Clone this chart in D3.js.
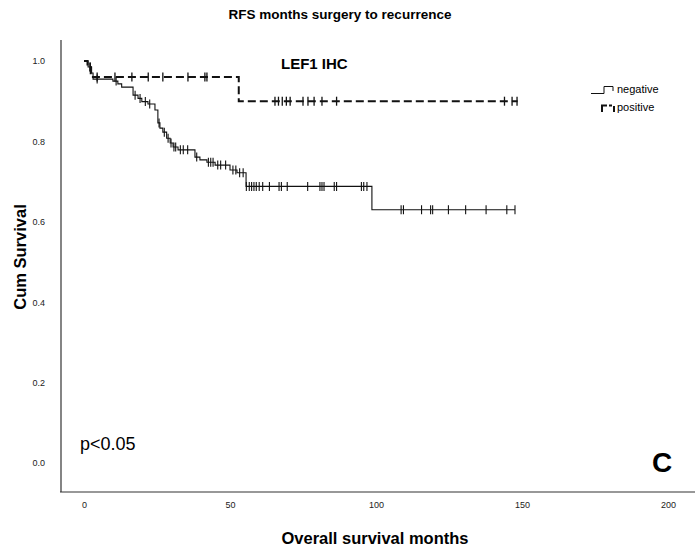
<!DOCTYPE html>
<html><head><meta charset="utf-8">
<script src="https://cdn.jsdelivr.net/npm/d3@7"></script>
<style>body{margin:0;background:#fff}svg{display:block;font-family:Arial,"Liberation Sans",sans-serif}</style>
</head><body><svg id="c" width="695" height="550"></svg>
<script>
const xTicks = [0, 50, 100, 150, 200];
const yTicks = [0.0, 0.2, 0.4, 0.6, 0.8, 1.0];
// Negative group: step times (months) and survival after each step
const negTimes = [0, 1.4, 2.6, 3.1, 9.9, 11.6, 12.9, 16.8, 18.5, 19.8, 21.9, 24.3, 25.3, 26.0, 27.0, 28.3, 29.5, 30.5, 32.2, 38.0, 39.7, 42.1, 44.9, 50.0, 52.4, 55.5, 98.6];
const negSurv  = [1.0, 0.985, 0.97, 0.955, 0.95, 0.943, 0.935, 0.915, 0.907, 0.899, 0.893, 0.878, 0.846, 0.833, 0.823, 0.808, 0.796, 0.786, 0.779, 0.761, 0.754, 0.748, 0.741, 0.729, 0.722, 0.688, 0.630];
const negEnd = 147.6;
const negCensor = [2.2, 4.5, 11.0, 17.5, 19.2, 21.0, 22.5, 25.7, 27.5, 28.8, 29.8, 30.8, 31.4, 33.0, 34.0, 35.5, 38.6, 42.6, 43.4, 44.2, 45.8, 46.8, 48.5, 51.0, 52.0, 53.3, 54.5, 55.6, 56.6, 57.4, 58.2, 59.0, 60.0, 61.2, 63.5, 66.8, 67.6, 69.6, 76.6, 80.8, 81.5, 82.2, 85.7, 86.5, 95.0, 95.8, 96.9, 108.6, 109.4, 115.6, 118.7, 119.4, 124.8, 130.7, 137.7, 144.8, 147.6];
// Positive group
const posTimes = [0, 1.2, 2.3, 53.0];
const posSurv  = [1.0, 0.985, 0.96, 0.90];
const posEnd = 148.5;
const posCensor = [2.0, 4.5, 10.6, 16.4, 22.0, 27.0, 35.6, 41.4, 42.1, 65.4, 66.6, 67.9, 69.3, 70.6, 75.0, 76.7, 78.8, 81.5, 86.5, 144.0, 146.6, 148.3];

const svg = d3.select("#c");
const x = d3.scaleLinear().domain([0, 200]).range([84, 668]);
const y = d3.scaleLinear().domain([0, 1]).range([463, 61]);

// axes lines
svg.append("line").attr("x1",61).attr("x2",61).attr("y1",40).attr("y2",492).attr("stroke","#333").attr("stroke-width",1.2);
svg.append("line").attr("x1",60).attr("x2",695).attr("y1",492).attr("y2",492).attr("stroke","#333").attr("stroke-width",1.2);

// tick labels via d3 axes (no tick lines)
const xAxis = svg.append("g").attr("transform","translate(0,492)")
  .call(d3.axisBottom(x).tickValues(xTicks).tickSize(0).tickPadding(10).tickFormat(d3.format("d")));
xAxis.select(".domain").remove();
xAxis.selectAll("text").attr("font-size",9).attr("fill","#222").attr("font-family","Arial, 'Liberation Sans', sans-serif");
const yAxis = svg.append("g").attr("transform","translate(45,0)")
  .call(d3.axisLeft(y).tickValues(yTicks).tickSize(0).tickPadding(0).tickFormat(d3.format(".1f")));
yAxis.select(".domain").remove();
yAxis.selectAll("text").attr("font-size",9).attr("fill","#222").attr("font-family","Arial, 'Liberation Sans', sans-serif");

const line = d3.line().x(d=>x(d[0])).y(d=>y(d[1])).curve(d3.curveStepAfter);
function pts(times, surv, end){ const p = times.map((t,i)=>[t,surv[i]]); p.push([end, surv[surv.length-1]]); return p; }
function survAt(times, surv, t){ let s = surv[0]; for (let i=0;i<times.length;i++){ if (times[i] <= t) s = surv[i]; } return s; }

svg.append("path").attr("d", line(pts(negTimes,negSurv,negEnd))).attr("fill","none").attr("stroke","#111").attr("stroke-width",1.1);
svg.append("path").attr("d", line(pts(posTimes,posSurv,posEnd))).attr("fill","none").attr("stroke","#111").attr("stroke-width",2).attr("stroke-dasharray","8,4");

svg.append("g").selectAll("line").data(negCensor).join("line")
  .attr("x1",d=>x(d)).attr("x2",d=>x(d))
  .attr("y1",d=>y(survAt(negTimes,negSurv,d))-4.5).attr("y2",d=>y(survAt(negTimes,negSurv,d))+4.5)
  .attr("stroke","#111").attr("stroke-width",1.1);
svg.append("g").selectAll("line").data(posCensor).join("line")
  .attr("x1",d=>x(d)).attr("x2",d=>x(d))
  .attr("y1",d=>y(survAt(posTimes,posSurv,d))-4.5).attr("y2",d=>y(survAt(posTimes,posSurv,d))+4.5)
  .attr("stroke","#111").attr("stroke-width",1.3);

// texts
svg.append("text").attr("x",340).attr("y",19).attr("text-anchor","middle").attr("font-weight","bold").attr("font-size",13.5).text("RFS months surgery to recurrence");
svg.append("text").attr("x",281).attr("y",69).attr("font-weight","bold").attr("font-size",15).text("LEF1 IHC");
svg.append("text").attr("x",375).attr("y",544).attr("text-anchor","middle").attr("font-weight","bold").attr("font-size",16.5).text("Overall survival months");
svg.append("text").attr("transform","translate(26,257) rotate(-90)").attr("text-anchor","middle").attr("font-weight","bold").attr("font-size",16.5).text("Cum Survival");
svg.append("text").attr("x",80).attr("y",450).attr("font-size",18).text("p<0.05");
svg.append("text").attr("x",652).attr("y",472).attr("font-weight","bold").attr("font-size",28).text("C");

// legend
const lg = svg.append("g");
lg.append("path").attr("d","M591,93.5H604V86.5H613V91").attr("fill","none").attr("stroke","#111").attr("stroke-width",1);
lg.append("text").attr("x",617).attr("y",93).attr("font-size",11).text("negative");
lg.append("path").attr("d","M602,112V105.5H607 M609,105.5H612 M614,106V112").attr("fill","none").attr("stroke","#111").attr("stroke-width",2);
lg.append("text").attr("x",617).attr("y",111).attr("font-size",11).text("positive");
</script></body></html>
